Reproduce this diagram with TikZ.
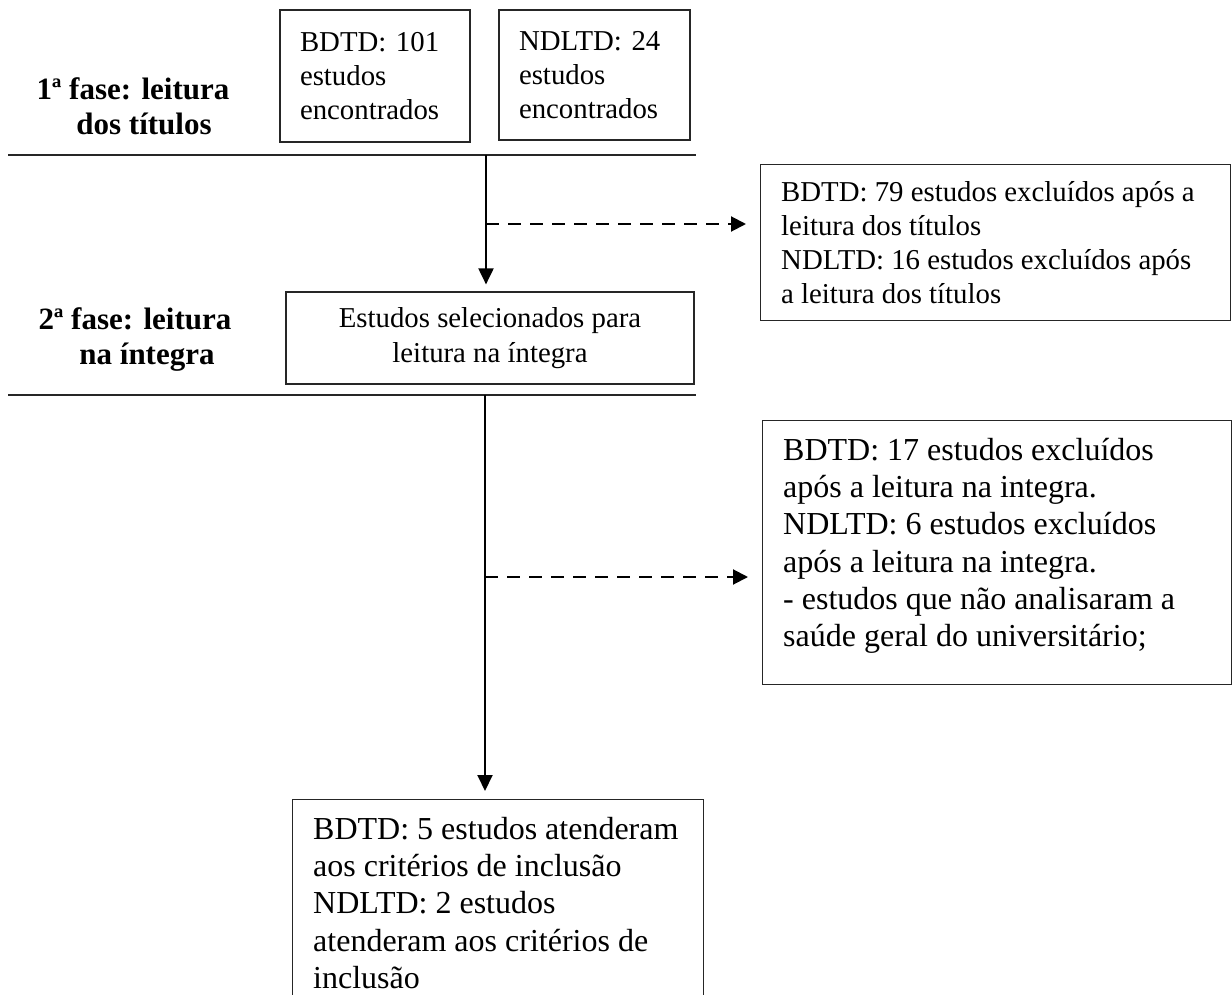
\documentclass[tikz,border=0pt]{standalone}
\usepackage{fontspec}
\setmainfont{Liberation Serif}
\usetikzlibrary{arrows.meta}
\begin{document}
\begin{tikzpicture}[x=1pt,y=-1pt,
  frame/.style={draw=black!85, line width=1.2pt, inner sep=0pt},
  smalltxt/.style={font=\fontsize{28.8}{34}\selectfont},
  bigtxt/.style={font=\fontsize{32}{37.2}\selectfont},
  phase/.style={font=\fontsize{31}{35}\selectfont\bfseries, align=center, inner sep=0pt},
  phaseline/.style={line width=1.8pt, black!85},
  arr/.style={line width=2pt, -{Triangle[length=16pt,width=15pt]}},
  darr/.style={line width=2pt, dash pattern=on 13pt off 9pt, -{Triangle[length=15pt,width=15pt]}}
]
\useasboundingbox (0,0) rectangle (1232,995);

% phase 1
\node[phase] (ph1) at (133,106) {1ª fase: leitura\\ \hspace*{22pt}dos títulos};
\node[frame, smalltxt, inner xsep=20pt, text width=150pt, minimum height=132pt, align=left]
  (bdtd) at (375,76) {BDTD: 101\\ estudos\\ encontrados};
\node[frame, smalltxt, inner xsep=20pt, text width=151pt, minimum height=130pt, align=left]
  (ndltd) at (594.5,75) {NDLTD: 24\\ estudos\\ encontrados};
\coordinate (l1a) at (8,155);
\coordinate (l1b) at (696,155);
\draw[phaseline] (l1a) -- (l1b);

% exclusion 1
\node[frame, minimum width=470pt, minimum height=156pt, anchor=north west]
  (ex1) at (760,164) {};
\node[smalltxt, inner sep=0pt, anchor=west, align=left]
  (ex1t) at (781,243) {BDTD: 79 estudos excluídos após a\\ leitura dos títulos\\ NDLTD: 16 estudos excluídos após\\ a leitura dos títulos};

% phase 2
\node[phase] (ph2) at (135,340) {2ª fase: leitura\\ \hspace*{24pt}na íntegra};
\node[frame, smalltxt, minimum width=408pt, minimum height=92pt, align=center, font=\fontsize{28.8}{35}\selectfont]
  (sel) at (490,338) {Estudos selecionados para\\ leitura na íntegra};
\coordinate (l2a) at (8,395);
\coordinate (l2b) at (696,395);
\draw[phaseline] (l2a) -- (l2b);

% exclusion 2
\node[frame, minimum width=469pt, minimum height=264pt, anchor=north west]
  (ex2) at (762,420) {};
\node[bigtxt, inner sep=0pt, anchor=north west, align=left]
  (ex2t) at (783,438) {BDTD: 17 estudos excluídos\\ após a leitura na integra.\\ NDLTD: 6 estudos excluídos\\ após a leitura na integra.\\ - estudos que não analisaram a\\ saúde geral do universitário;};

% final
\node[frame, minimum width=411pt, minimum height=230pt, anchor=north west]
  (fin) at (292,799) {};
\node[bigtxt, inner sep=0pt, anchor=north west, align=left]
  (fint) at (313,817) {BDTD: 5 estudos atenderam\\ aos critérios de inclusão\\ NDLTD: 2 estudos\\ atenderam aos critérios de\\ inclusão};

% connectors
\coordinate (v1) at (486,155);
\draw[arr, shorten >=7pt] (v1) -- (v1 |- sel.north);
\coordinate (d1) at (486,224);
\draw[darr, shorten >=14pt] (d1) -- (d1 -| ex1.west);

\coordinate (v2) at (485,395);
\draw[arr, shorten >=8pt] (v2) -- (v2 |- fin.north);
\coordinate (d2) at (485,577);
\draw[darr, shorten >=14pt] (d2) -- (d2 -| ex2.west);
\end{tikzpicture}
\end{document}
